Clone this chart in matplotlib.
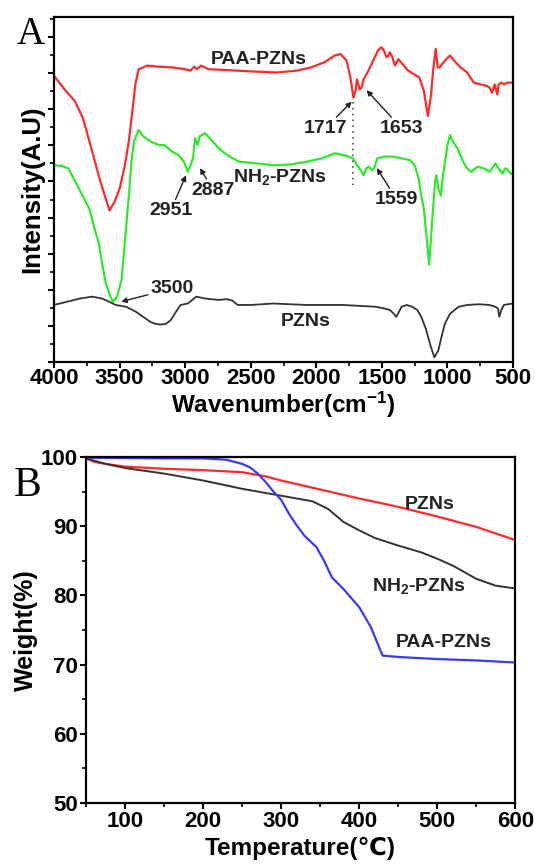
import matplotlib
matplotlib.use("Agg")
import matplotlib.pyplot as plt
from matplotlib.ticker import MultipleLocator

plt.rcParams['font.family'] = ['Liberation Sans', 'DejaVu Sans']
plt.rcParams['font.weight'] = 'bold'
plt.rcParams['mathtext.fontset'] = 'custom'
plt.rcParams['mathtext.rm'] = 'Liberation Sans:bold'
plt.rcParams['mathtext.it'] = 'Liberation Sans:bold'
plt.rcParams['mathtext.bf'] = 'Liberation Sans:bold'
plt.rcParams['mathtext.default'] = 'rm'

# ---------------- Panel A: FTIR ----------------
paa_wn = [4000, 3920, 3842, 3780, 3730, 3660, 3610, 3577, 3540, 3500, 3460, 3430, 3400, 3380,
          3355, 3320, 3290, 3200, 3100, 3000, 2960, 2930, 2910, 2880, 2850, 2820, 2700, 2500,
          2300, 2150, 2040, 1940, 1860, 1815, 1770, 1740, 1717, 1700, 1690, 1670, 1655, 1640,
          1610, 1585, 1555, 1530, 1505, 1485, 1465, 1450, 1440, 1420, 1400, 1375, 1300, 1215,
          1180, 1150, 1125, 1110, 1090, 1075, 1060, 1020, 980, 950, 900, 850, 800, 750, 700,
          680, 660, 640, 620, 610, 590, 570, 540, 500]
paa_int = [7.93, 7.55, 7.23, 6.76, 6.11, 5.17, 4.57, 4.20, 4.43, 4.80, 5.45, 6.11, 7.04, 7.69,
           8.11, 8.16, 8.21, 8.18, 8.16, 8.11, 8.07, 8.18, 8.11, 8.21, 8.16, 8.11, 8.09, 8.05,
           8.02, 8.07, 8.16, 8.30, 8.49, 8.53, 8.35, 7.88, 7.32, 7.55, 7.83, 7.55, 7.60, 7.83,
           8.02, 8.21, 8.44, 8.63, 8.72, 8.63, 8.44, 8.49, 8.58, 8.44, 8.21, 8.39, 8.07, 7.88,
           7.51, 6.81, 7.41, 8.07, 8.67, 8.16, 8.16, 8.35, 8.49, 8.35, 8.16, 8.02, 7.74, 7.69,
           7.65, 7.60, 7.46, 7.69, 7.41, 7.69, 7.74, 7.69, 7.74, 7.74]

nh2_wn = [4000, 3940, 3890, 3850, 3810, 3770, 3730, 3690, 3660, 3630, 3605, 3570, 3550, 3520,
          3485, 3465, 3445, 3425, 3410, 3390, 3355, 3320, 3265, 3200, 3160, 3100, 3050, 3010,
          2980, 2960, 2940, 2925, 2905, 2890, 2870, 2850, 2800, 2745, 2680, 2590, 2450, 2330,
          2200, 2070, 1960, 1860, 1790, 1755, 1720, 1690, 1660, 1640, 1620, 1600, 1575, 1560,
          1535, 1480, 1415, 1350, 1285, 1250, 1220, 1200, 1180, 1160, 1140, 1125, 1110, 1095,
          1085, 1070, 1050, 1040, 1030, 1000, 980, 960, 925, 880, 850, 820, 790, 770, 720, 680,
          660, 635, 610, 580, 560, 550, 530, 500]
nh2_int = [5.45, 5.43, 5.36, 5.08, 4.80, 4.52, 4.24, 3.68, 3.31, 2.65, 2.18, 1.81, 1.67, 1.81,
           2.28, 3.12, 3.96, 4.80, 5.55, 6.11, 6.43, 6.25, 6.11, 6.01, 6.01, 5.83, 5.73, 5.55,
           5.27, 5.45, 5.64, 6.20, 6.01, 6.25, 6.29, 6.34, 6.15, 5.92, 5.73, 5.55, 5.50, 5.45,
           5.47, 5.55, 5.64, 5.78, 5.73, 5.69, 5.64, 5.45, 5.31, 5.17, 5.36, 5.41, 5.31, 5.36,
           5.64, 5.69, 5.69, 5.64, 5.59, 5.45, 5.08, 4.61, 4.24, 3.49, 2.70, 3.49, 4.24, 4.99,
           5.17, 4.80, 4.61, 4.99, 5.27, 6.01, 6.29, 6.11, 5.92, 5.55, 5.36, 5.27, 5.36, 5.41,
           5.36, 5.27, 5.36, 5.50, 5.36, 5.22, 5.36, 5.36, 5.27, 5.17]

pzn_wn = [4000, 3900, 3800, 3710, 3635, 3580, 3530, 3450, 3375, 3300, 3265, 3220, 3190, 3150,
          3110, 3070, 3035, 2980, 2915, 2850, 2800, 2745, 2680, 2640, 2600, 2500, 2330, 2070,
          1800, 1545, 1480, 1440, 1410, 1390, 1370, 1350, 1310, 1270, 1230, 1200, 1165, 1130,
          1100, 1070, 1040, 1020, 980, 915, 850, 760, 680, 635, 615, 605, 590, 570, 540, 500]
pzn_int = [1.58, 1.67, 1.76, 1.81, 1.76, 1.67, 1.58, 1.53, 1.39, 1.20, 1.11, 1.05, 1.04, 1.05,
           1.16, 1.39, 1.58, 1.62, 1.81, 1.76, 1.74, 1.72, 1.74, 1.70, 1.58, 1.58, 1.62, 1.58,
           1.58, 1.53, 1.48, 1.44, 1.34, 1.25, 1.39, 1.53, 1.58, 1.53, 1.44, 1.25, 0.92, 0.46,
           0.13, 0.32, 0.78, 1.06, 1.34, 1.53, 1.58, 1.60, 1.58, 1.53, 1.48, 1.25, 1.44, 1.58,
           1.60, 1.62]

ftir_ticks = [4000, 3500, 3000, 2500, 2000, 1500, 1000, 500]

# ---------------- Panel B: TGA ----------------
pzn_T = [50, 60, 75, 100, 150, 200, 250, 280, 300, 350, 400, 450, 500, 550, 600]
pzn_W = [99.8, 99.3, 99.0, 98.6, 98.3, 98.1, 97.8, 97.2, 96.6, 95.3, 94.0, 92.8, 91.4, 89.9, 88.0]

nh2_T = [50, 75, 100, 150, 200, 250, 300, 340, 360, 380, 400, 420, 450, 480, 500, 520, 550, 575, 600]
nh2_W = [99.8, 99.0, 98.4, 97.6, 96.6, 95.4, 94.4, 93.6, 92.5, 90.6, 89.4, 88.3, 87.2, 86.2,
         85.3, 84.3, 82.4, 81.4, 81.0]

paa_T = [50, 100, 150, 200, 230, 250, 260, 270, 280, 290, 300, 310, 320, 330, 345, 355, 365,
         380, 400, 415, 430, 450, 500, 550, 600]
paa_W = [99.9, 99.85, 99.8, 99.8, 99.6, 99.0, 98.5, 97.6, 96.4, 95.0, 93.8, 91.8, 90.1, 88.6,
         87.0, 85.0, 82.6, 80.9, 78.3, 75.4, 71.3, 71.1, 70.8, 70.6, 70.3]

tga_xticks = [100, 200, 300, 400, 500, 600]
tga_yticks = [50, 60, 70, 80, 90, 100]

RED = '#ff2a2a'
GREEN = '#2ee82e'
BLACK = '#333333'
BLUE = '#3a3aff'

fig = plt.figure(figsize=(5.35, 8.65), dpi=100)

# ---- A ----
axA = fig.add_axes([0.101, 0.5815, 0.858, 0.399])
axA.plot(paa_wn, paa_int, color=RED, lw=1.6)
axA.plot(nh2_wn, nh2_int, color=GREEN, lw=1.6)
axA.plot(pzn_wn, pzn_int, color=BLACK, lw=1.3)
axA.set_xlim(4000, 500)
axA.set_ylim(0, 9.56)
axA.set_xticks(ftir_ticks)
axA.set_xticklabels([str(t) for t in ftir_ticks])
axA.xaxis.set_minor_locator(MultipleLocator(250))
axA.yaxis.set_major_locator(MultipleLocator(1))
axA.yaxis.set_minor_locator(MultipleLocator(0.5))
axA.set_yticklabels([])
axA.tick_params(axis='both', which='major', direction='out', length=4, width=1.5,
                labelsize=16, pad=0)
axA.tick_params(axis='both', which='minor', direction='out', length=3, width=1.2)
for s in axA.spines.values():
    s.set_linewidth(1.6)
axA.set_xlabel('Wavenumber(cm$^{-1}$)', fontsize=17.5, fontweight='bold', labelpad=1)
axA.set_ylabel('Intensity(A.U)', fontsize=18.5, fontweight='bold', labelpad=1)

tk = dict(fontsize=14, fontweight='bold', color='#222222', ha='center', va='center')
axA.text(2442, 8.38, 'PAA-PZNs', **tk)
axA.text(2277, 5.13, 'NH$_2$-PZNs', **tk)
axA.text(2085, 1.11, 'PZNs', **tk)
arrow = dict(arrowstyle='-|>', color='#222222', lw=1.0, mutation_scale=8, shrinkA=0, shrinkB=0)
axA.annotate('1717', xy=(1730, 7.21), xytext=(1933, 6.47), arrowprops=arrow, **tk)
axA.annotate('1653', xy=(1617, 7.53), xytext=(1349, 6.47), arrowprops=arrow, **tk)
axA.annotate('2951', xy=(2994, 5.17), xytext=(3111, 4.19), arrowprops=arrow, **tk)
axA.annotate('2887', xy=(2887, 5.37), xytext=(2787, 4.76), arrowprops=arrow, **tk)
axA.annotate('1559', xy=(1539, 5.37), xytext=(1387, 4.50), arrowprops=arrow, **tk)
axA.annotate('3500', xy=(3488, 1.67), xytext=(3098, 2.04), arrowprops=arrow, **tk)
axA.plot([1717, 1717], [7.2, 4.9], color='#555555', lw=1.2, ls=(0, (1, 2.5)))

fig.text(0.058, 0.960, 'A', fontsize=28, family='Liberation Serif', fontweight='normal',
         ha='center', va='center')

# ---- B ----
axB = fig.add_axes([0.161, 0.0717, 0.802, 0.400])
axB.plot(pzn_T, pzn_W, color=RED, lw=1.6)
axB.plot(nh2_T, nh2_W, color=BLACK, lw=1.4)
axB.plot(paa_T, paa_W, color=BLUE, lw=1.6)
axB.set_xlim(50, 600)
axB.set_ylim(50, 100)
axB.set_xticks(tga_xticks)
axB.set_xticklabels([str(t) for t in tga_xticks])
axB.set_yticks(tga_yticks)
axB.set_yticklabels([str(t) for t in tga_yticks])
axB.xaxis.set_minor_locator(MultipleLocator(50))
axB.yaxis.set_minor_locator(MultipleLocator(5))
axB.tick_params(axis='both', which='major', direction='out', length=4, width=1.5,
                labelsize=16, pad=2)
axB.tick_params(axis='both', which='minor', direction='out', length=3, width=1.2)
for s in axB.spines.values():
    s.set_linewidth(1.6)
axB.set_xlabel('Temperature(℃)', fontsize=17.5, fontweight='bold', labelpad=3)
axB.set_ylabel('Weight(%)', fontsize=18, fontweight='bold', labelpad=2)
axB.text(490, 93.2, 'PZNs', **tk)
axB.text(477, 81.4, 'NH$_2$-PZNs', **tk)
axB.text(508, 73.2, 'PAA-PZNs', **tk)

fig.text(0.052, 0.438, 'B', fontsize=30, family='Liberation Serif', fontweight='normal',
         ha='center', va='center')

fig.savefig('out.png', dpi=100)
